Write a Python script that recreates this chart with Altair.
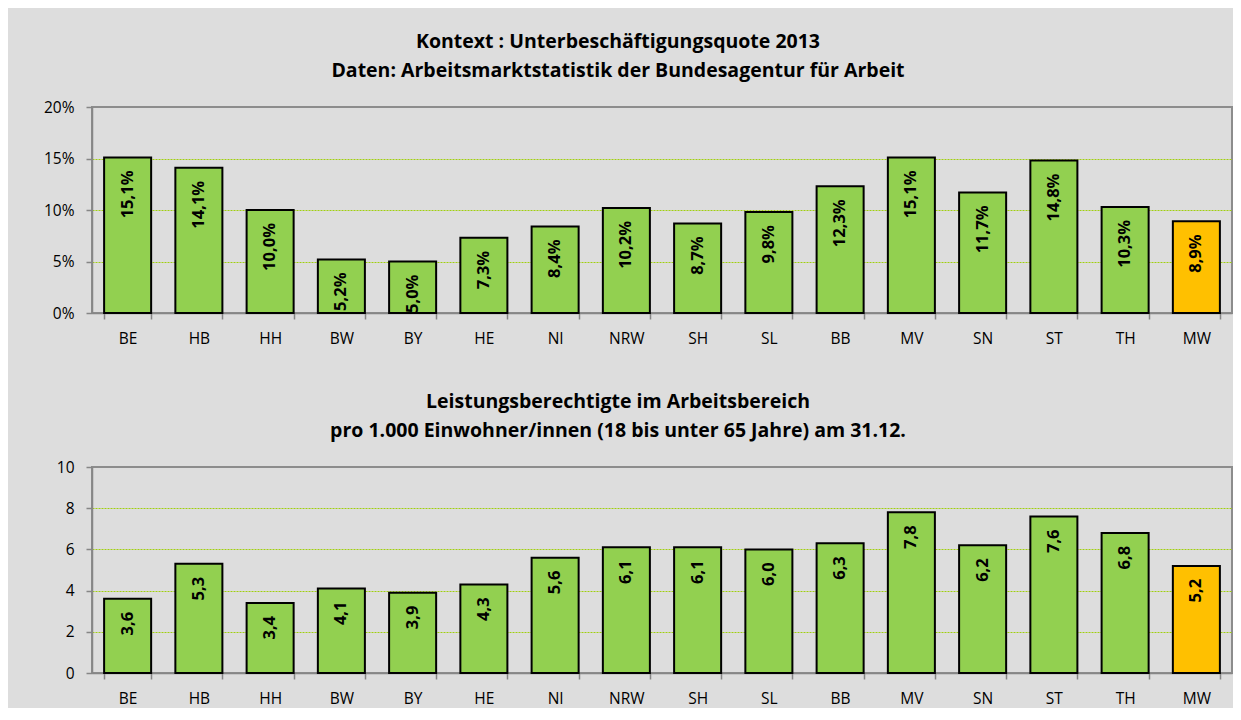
import altair as alt
import pandas as pd

# ---- data ----
cats = ["BE", "HB", "HH", "BW", "BY", "HE", "NI", "NRW", "SH", "SL", "BB", "MV", "SN", "ST", "TH", "MW"]
quote_2013 = [15.1, 14.1, 10.0, 5.2, 5.0, 7.3, 8.4, 10.2, 8.7, 9.8, 12.3, 15.1, 11.7, 14.8, 10.3, 8.9]
dichte_wtb = [3.6, 5.3, 3.4, 4.1, 3.9, 4.3, 5.6, 6.1, 6.1, 6.0, 6.3, 7.8, 6.2, 7.6, 6.8, 5.2]
highlight = "MW"

title_top = ["Kontext : Unterbeschäftigungsquote 2013",
             "Daten: Arbeitsmarktstatistik der Bundesagentur für Arbeit"]
title_bottom = ["Leistungsberechtigte im Arbeitsbereich",
                "pro 1.000 Einwohner/innen (18 bis unter 65 Jahre) am 31.12."]

# ---- style ----
FONT = "Open Sans"
GREEN = "#92D050"
ORANGE = "#FFC000"
GRID = "#A0CF10"
AXIS = "#868686"
BG = "#DDDDDD"


def panel(values, title, ymax, ystep, suffix, offset):
    df = pd.DataFrame({
        "cat": cats,
        "val": values,
        "lab": [f"{v:.1f}".replace(".", ",") + suffix for v in values],
    })
    base = alt.Chart(df).encode(
        x=alt.X("cat:N", sort=cats, title=None,
                scale=alt.Scale(paddingInner=0.34, paddingOuter=0.17),
                axis=alt.Axis(labelAngle=0, tickBand="extent", tickSize=6,
                              tickColor=AXIS, tickWidth=1.5, domainColor=AXIS,
                              domainWidth=1.5, labelFont=FONT, labelFontSize=15.5,
                              labelColor="black", labelPadding=12)),
        y=alt.Y("val:Q", title=None,
                scale=alt.Scale(domain=[0, ymax], nice=False, zero=True),
                axis=alt.Axis(values=list(range(0, ymax + 1, ystep)),
                              labelExpr="datum.value + '" + suffix + "'",
                              grid=True, gridColor=GRID, gridDash=[2, 1], gridWidth=1,
                              gridOpacity={"condition": {"test": f"datum.value <= 0 || datum.value >= {ymax}", "value": 0}, "value": 1},
                              tickSize=6, tickColor=AXIS, tickWidth=1.5,
                              domainColor=AXIS, domainWidth=1.5,
                              labelFont=FONT, labelFontSize=15.5, labelColor="black",
                              labelPadding=12)),
    )
    bars = base.mark_bar(stroke="black", strokeWidth=2).encode(
        color=alt.condition(alt.datum.cat == highlight, alt.value(ORANGE), alt.value(GREEN))
    )
    labels = base.mark_text(angle=270, align="right", baseline="middle", dx=-13,
                            font=FONT, fontWeight="bold", fontSize=16.5,
                            color="black").encode(text="lab:N")
    return alt.layer(bars, labels).properties(
        width=1140, height=206,
        title=alt.TitleParams(text=title, anchor="middle", font=FONT, fontSize=19.5,
                              fontWeight="bold", color="black", lineHeight=29,
                              offset=offset, dx=-44),
    )


chart = alt.vconcat(
    panel(quote_2013, title_top, 20, 5, "%", 19),
    panel(dichte_wtb, title_bottom, 10, 2, "", 19),
    spacing=42,
).properties(
    background=BG,
    padding={"left": 34, "top": 22, "right": 0, "bottom": 0},
).configure_view(stroke="#8C8C8C", strokeWidth=2)

chart.save("out.html", embed_options={"renderer": "svg", "actions": False})
